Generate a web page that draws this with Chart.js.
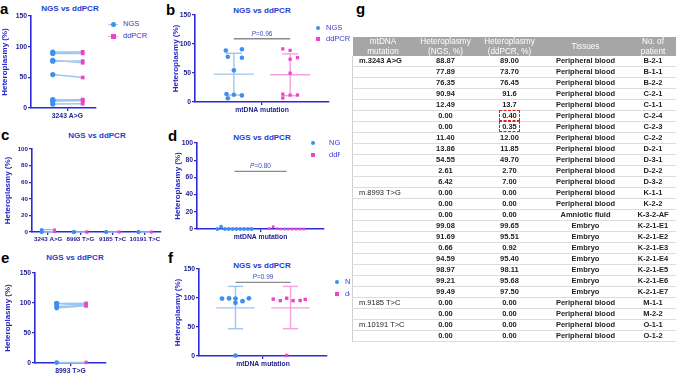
<!DOCTYPE html>
<html>
<head>
<meta charset="utf-8">
<script src="https://cdn.jsdelivr.net/npm/chart.js@4.4.0/dist/chart.umd.min.js"></script>
<style>
  body { margin: 0; width: 676px; height: 375px; position: relative; overflow: hidden; background: #fff;
         font-family: 'Liberation Sans', Arial, sans-serif; }
  canvas { position: absolute; }
  .letter { position: absolute; font-weight: bold; font-size: 15px; color: #000; line-height: 1; }
  .title { position: absolute; font-weight: bold; font-size: 8px; color: #2440d0; transform: translate(-50%, -50%); white-space: nowrap; }
  .legend { position: absolute; overflow: hidden; font-size: 7.5px; color: #3a3ad0; white-space: nowrap; }
  .legend div { height: 11px; line-height: 11px; position: relative; }
  .dot { display: inline-block; width: 4px; height: 4px; border-radius: 50%; background: #3d8ff0; vertical-align: middle; margin-right: 6px; }
  .sq { display: inline-block; width: 4px; height: 4px; background: #ee44cc; vertical-align: middle; margin-right: 6px; }
  .ln { display: inline-block; width: 10px; height: 1px; vertical-align: middle; margin-right: 5px; position: relative; }
  .ln i { position: absolute; left: 3px; top: -2px; width: 5px; height: 5px; }
  #tbl { position: absolute; left: 352px; top: 37px; width: 324px; border-collapse: collapse; table-layout: fixed;
         font-size: 7.5px; color: #222; }
  #tbl th { background: #a6a6a6; color: #fff; font-weight: normal; font-size: 8.2px; line-height: 9.4px; height: 19.4px; padding: 0; }
  #tbl td { height: 10.43px; line-height: 10px; padding: 0; text-align: center; font-weight: bold;
            border-bottom: 1px solid #dcdcdc; box-sizing: border-box; }
  #tbl td.mut { text-align: left; padding-left: 6px; font-weight: normal; }
  #tbl td.mut.b { font-weight: bold; }
  #tbl tr td:first-child { border-left: 1px solid #d0d0d0; }
  .mark { outline: 1px dashed #e02020; outline-offset: 0; padding: 0 2px; }
</style>
</head>
<body>

<div class="letter" style="left:0px;top:1px">a</div>
<div class="letter" style="left:166px;top:2px">b</div>
<div class="letter" style="left:1px;top:127px">c</div>
<div class="letter" style="left:168px;top:128px">d</div>
<div class="letter" style="left:1px;top:250px">e</div>
<div class="letter" style="left:168px;top:250px">f</div>
<div class="letter" style="left:356px;top:1px">g</div>

<div class="title" style="left:70px;top:8px">NGS vs ddPCR</div>
<div class="title" style="left:262px;top:10px">NGS vs ddPCR</div>
<div class="title" style="left:97px;top:135px">NGS vs ddPCR</div>
<div class="title" style="left:262px;top:137px">NGS vs ddPCR</div>
<div class="title" style="left:75px;top:257px">NGS vs ddPCR</div>
<div class="title" style="left:262px;top:265px">NGS vs ddPCR</div>

<canvas id="chartA" width="100" height="125" style="left:0px;top:0px"></canvas>
<canvas id="chartB" width="162" height="125" style="left:171px;top:0px"></canvas>
<canvas id="chartC" width="162" height="125" style="left:3px;top:125px"></canvas>
<canvas id="chartD" width="155" height="120" style="left:173px;top:125px"></canvas>
<canvas id="chartE" width="107" height="125" style="left:3px;top:250px"></canvas>
<canvas id="chartF" width="158" height="125" style="left:173px;top:250px"></canvas>

<div class="legend" style="left:108px;top:18px;width:50px">
  <div><span class="ln" style="background:#a9cdf2"><i style="background:#3d8ff0;border-radius:50%"></i></span>NGS</div>
  <div style="top:1px"><span class="ln" style="background:#f5a6e2"><i style="background:#ee44cc"></i></span>ddPCR</div>
</div>
<div class="legend" style="left:316px;top:22px;width:36px">
  <div><span class="dot"></span>NGS</div>
  <div><span class="sq"></span>ddPCR</div>
</div>
<div class="legend" style="left:311px;top:137px;width:29px">
  <div><span class="dot" style="margin-right:14px"></span>NGS</div>
  <div style="top:1px"><span class="sq" style="margin-right:14px"></span>ddPCR</div>
</div>
<div class="legend" style="left:335px;top:276px;width:15px">
  <div><span class="dot" style="margin-right:6px"></span>NGS</div>
  <div style="top:1px"><span class="sq" style="margin-right:6px"></span>ddPCR</div>
</div>

<table id="tbl">
  <colgroup><col style="width:61px"><col style="width:64px"><col style="width:64px"><col style="width:88px"><col style="width:47px"></colgroup>
  <thead><tr><th>mtDNA<br>mutation</th><th>Heteroplasmy<br>(NGS, %)</th><th>Heteroplasmy<br>(ddPCR, %)</th><th>Tissues</th><th>No. of<br>patient</th></tr></thead>
  <tbody id="tbody"></tbody>
</table>

<script>
// colours
const AXIS = '#2b2bd6';
const TICK_TEXT = '#1c1c8e';
const NGS_COLOR = '#3d8ff0';
const NGS_LIGHT = '#9fc6f0';
const DD_COLOR = '#ee44cc';
const DD_LIGHT = '#f5a0e0';

// panel a / b : m.3243 A>G, peripheral blood, paired values
const aCategory = ['3243 A>G'];
const aNGS = [88.87, 77.89, 76.35, 90.94, 12.49, 11.40, 13.86, 54.55, 6.42];
const aDdPCR = [89.00, 73.70, 76.45, 91.6, 13.7, 12.00, 11.85, 49.70, 7.00];

const bCategory = ['mtDNA mutation'];
const bNGSJitter = [-0.12, -0.09, 0.12, 0.12, 0, 0.12, -0.11, 0, -0.09];
const bDdJitter = [0, 0, 0.11, -0.11, -0.11, 0.11, 0, 0, -0.11];
const bMean = [48, 47];
const bSDLow = [12, 11];
const bSDHigh = [84, 83];
const bP = ['0.96', 109];

// panel c : low-level samples for each mutation
const cCategories = ['3243 A>G', '8993 T>G', '9185 T>C', '10191 T>C'];
const cNGS = [[0.00, 0.00, 2.61], [0.00, 0.00, 0.00], [0.00, 0.00], [0.00, 0.00]];
const cDdPCR = [[0.40, 0.35, 2.70], [0.00, 0.00, 0.00], [0.00, 0.00], [0.00, 0.00]];

// panel d
const dNGS = [0.00, 2.61, 0.00, 0.00, 0.00, 0.00, 0.00, 0.00, 0.00, 0.00];
const dDdPCR = [0.40, 2.70, 0.35, 0.00, 0.00, 0.00, 0.00, 0.00, 0.00, 0.00];
const dJitter = [-0.27, -0.21, -0.15, -0.09, -0.03, 0.03, 0.09, 0.15, 0.21, 0.27];
const dP = ['0.80', 67];

// panel e / f : m.8993 T>G embryos
const eCategory = ['8993 T>G'];
const eNGS = [99.08, 91.69, 0.66, 94.59, 98.97, 99.21, 99.49];
const eDdPCR = [99.65, 95.51, 0.92, 95.40, 98.11, 95.68, 97.50];
const fNGSJitter = [-0.21, 0, 0, 0.11, 0, -0.1, 0.21];
const fDdJitter = [-0.06, -0.16, -0.06, 0.04, -0.27, 0.15, 0.23];
const fMean = [83, 83];
const fSDLow = [47, 47];
const fSDHigh = [120, 120];
const fP = ['0.99', 127];

// table g
const tableRows = [
  ['m.3243 A>G', '88.87', '89.00', 'Peripheral blood', 'B-2-1'],
  ['', '77.89', '73.70', 'Peripheral blood', 'B-1-1'],
  ['', '76.35', '76.45', 'Peripheral blood', 'B-2-2'],
  ['', '90.94', '91.6', 'Peripheral blood', 'C-2-1'],
  ['', '12.49', '13.7', 'Peripheral blood', 'C-1-1'],
  ['', '0.00', '0.40', 'Peripheral blood', 'C-2-4'],
  ['', '0.00', '0.35', 'Peripheral blood', 'C-2-3'],
  ['', '11.40', '12.00', 'Peripheral blood', 'C-2-2'],
  ['', '13.86', '11.85', 'Peripheral blood', 'D-2-1'],
  ['', '54.55', '49.70', 'Peripheral blood', 'D-3-1'],
  ['', '2.61', '2.70', 'Peripheral blood', 'D-2-2'],
  ['', '6.42', '7.00', 'Peripheral blood', 'D-3-2'],
  ['m.8993 T>G', '0.00', '0.00', 'Peripheral blood', 'K-1-1'],
  ['', '0.00', '0.00', 'Peripheral blood', 'K-2-2'],
  ['', '0.00', '0.00', 'Amniotic fluid', 'K-3-2-AF'],
  ['', '99.08', '99.65', 'Embryo', 'K-2-1-E1'],
  ['', '91.69', '95.51', 'Embryo', 'K-2-1-E2'],
  ['', '0.66', '0.92', 'Embryo', 'K-2-1-E3'],
  ['', '94.59', '95.40', 'Embryo', 'K-2-1-E4'],
  ['', '98.97', '98.11', 'Embryo', 'K-2-1-E5'],
  ['', '99.21', '95.68', 'Embryo', 'K-2-1-E6'],
  ['', '99.49', '97.50', 'Embryo', 'K-2-1-E7'],
  ['m.9185 T>C', '0.00', '0.00', 'Peripheral blood', 'M-1-1'],
  ['', '0.00', '0.00', 'Peripheral blood', 'M-2-2'],
  ['m.10191 T>C', '0.00', '0.00', 'Peripheral blood', 'O-1-1'],
  ['', '0.00', '0.00', 'Peripheral blood', 'O-1-2']
];
const markedRows = [5, 6];

const tbody = document.getElementById('tbody');
tableRows.forEach((row, r) => {
  const tr = document.createElement('tr');
  row.forEach((cell, c) => {
    const td = document.createElement('td');
    if (c === 0) td.className = 'mut' + (r === 0 ? ' b' : '');
    if (c === 2 && markedRows.includes(r)) {
      td.innerHTML = '<span class="mark">' + cell + '</span>';
    } else {
      td.textContent = cell;
    }
    tr.appendChild(td);
  });
  tbody.appendChild(tr);
});

// draws "P=0.xx" above the comparison bar
const pLabelPlugin = {
  id: 'pLabel',
  afterDatasetsDraw(chart, args, opts) {
    if (!opts || !opts.text) return;
    const ctx = chart.ctx;
    const x = chart.scales.x.getPixelForValue(0);
    const y = chart.scales.y.getPixelForValue(opts.y) - 5;
    ctx.save();
    ctx.fillStyle = '#3b4bb8';
    ctx.textBaseline = 'middle';
    ctx.font = 'italic 6.5px "Liberation Sans", Arial';
    const wP = ctx.measureText('P').width;
    ctx.font = '6.5px "Liberation Sans", Arial';
    const wRest = ctx.measureText('=' + opts.text).width;
    const start = x - (wP + wRest) / 2;
    ctx.font = 'italic 6.5px "Liberation Sans", Arial';
    ctx.fillText('P', start, y);
    ctx.font = '6.5px "Liberation Sans", Arial';
    ctx.fillText('=' + opts.text, start + wP, y);
    ctx.restore();
  }
};

function panel(id, o) {
  const canvas = document.getElementById(id);
  const tickFont = { family: "'Liberation Sans', Arial", size: o.tickSize || 6.8, weight: 'bold' };
  return new Chart(canvas.getContext('2d'), {
    type: 'scatter',
    data: { datasets: o.datasets },
    options: {
      responsive: false,
      animation: false,
      devicePixelRatio: 1,
      layout: { padding: { top: o.padTop, right: o.padRight, left: 0, bottom: 0 } },
      plugins: { legend: { display: false }, tooltip: { enabled: false }, pLabel: o.pLabel || {} },
      scales: {
        x: {
          type: 'linear', min: o.xMin, max: o.xMax,
          afterBuildTicks: axis => { axis.ticks = o.xTicks.map(v => ({ value: v })); },
          afterFit: axis => { axis.height = o.xHeight; },
          ticks: { callback: v => o.xLabels[o.xTicks.indexOf(v)], font: tickFont, color: TICK_TEXT,
                   maxRotation: 0, autoSkip: false, padding: 1 },
          grid: { drawOnChartArea: false, tickLength: 3, color: AXIS, lineWidth: 1.3 },
          border: { color: AXIS, width: 1.6 }
        },
        y: {
          min: 0, max: o.yMax,
          afterFit: axis => { axis.width = o.yWidth; },
          ticks: { stepSize: o.yStep, font: tickFont, color: TICK_TEXT, padding: 1 },
          title: { display: true, text: 'Heteroplasmy (%)', color: '#2626c8', padding: 0,
                   font: { family: "'Liberation Sans', Arial", size: 8, weight: 'bold' } },
          grid: { drawOnChartArea: false, tickLength: 3, color: AXIS, lineWidth: 1.3 },
          border: { color: AXIS, width: 1.6 }
        }
      }
    },
    plugins: [pLabelPlugin]
  });
}

// before-after lines, one segment per pair
function pairLines(ngs, dd, xN, xD) {
  const pts = [];
  ngs.forEach((v, i) => { pts.push({ x: xN, y: v }, { x: xD, y: dd[i] }, { x: xD, y: null }); });
  return { data: pts, showLine: true, spanGaps: false, borderColor: NGS_LIGHT, borderWidth: 1.5,
           pointRadius: 0, clip: false, order: 2 };
}
function markers(values, xs, color, style, r) {
  return { data: values.map((v, i) => ({ x: xs[i], y: v })), pointStyle: style, pointRadius: r,
           backgroundColor: color, borderColor: color, borderWidth: 0, showLine: false, clip: false, order: 0 };
}
function seg(x1, y1, x2, y2, color) {
  return { data: [{ x: x1, y: y1 }, { x: x2, y: y2 }], showLine: true, borderColor: color, borderWidth: 1.4,
           pointRadius: 0, clip: false, order: 1 };
}
function meanSD(center, mean, low, high, color) {
  return [
    seg(center - 0.3, mean, center + 0.3, mean, color),
    seg(center, low, center, high, color),
    seg(center - 0.12, low, center + 0.12, low, color),
    seg(center - 0.12, high, center + 0.12, high, color)
  ];
}

// a
const aXN = -0.45, aXD = 0.47;
panel('chartA', {
  padTop: 16, padRight: 3, xHeight: 17, yWidth: 31,
  xMin: -1.12, xMax: 0.88, xTicks: [0], xLabels: aCategory, yMax: 150, yStep: 50,
  datasets: [
    pairLines(aNGS, aDdPCR, aXN, aXD),
    markers(aNGS, aNGS.map(() => aXN), NGS_COLOR, 'circle', 2.6),
    markers(aDdPCR, aDdPCR.map(() => aXD), DD_COLOR, 'rect', 2.6)
  ]
});

// b
panel('chartB', {
  padTop: 15, padRight: 3, xHeight: 23, yWidth: 24,
  xMin: -1, xMax: 1, xTicks: [0], xLabels: bCategory, yMax: 150, yStep: 50,
  pLabel: { text: bP[0], y: bP[1] },
  datasets: [
    markers(aNGS, bNGSJitter.map(j => -0.42 + j), NGS_COLOR, 'circle', 2.3),
    markers(aDdPCR, bDdJitter.map(j => 0.42 + j), DD_COLOR, 'rect', 2.3),
    ...meanSD(-0.42, bMean[0], bSDLow[0], bSDHigh[0], NGS_LIGHT),
    ...meanSD(0.42, bMean[1], bSDLow[1], bSDHigh[1], DD_LIGHT),
    seg(-0.42, bP[1], 0.42, bP[1], '#8a8a8a')
  ]
});

// c
const cSets = [];
cCategories.forEach((cat, k) => {
  cSets.push(pairLines(cNGS[k], cDdPCR[k], k - 0.2, k + 0.2));
  cSets.push(markers(cNGS[k], cNGS[k].map(() => k - 0.2), NGS_COLOR, 'circle', 1.9));
  cSets.push(markers(cDdPCR[k], cDdPCR[k].map(() => k + 0.2), DD_COLOR, 'rect', 1.9));
});
panel('chartC', {
  padTop: 24, padRight: 3, xHeight: 18, yWidth: 29, tickSize: 6.2,
  xMin: -0.5, xMax: 3.5, xTicks: [0, 1, 2, 3], xLabels: cCategories, yMax: 100, yStep: 20,
  datasets: cSets
});

// d
panel('chartD', {
  padTop: 18, padRight: 3, xHeight: 16, yWidth: 24,
  xMin: -1, xMax: 1, xTicks: [0], xLabels: bCategory, yMax: 100, yStep: 20,
  pLabel: { text: dP[0], y: dP[1] },
  datasets: [
    markers(dNGS, dJitter.map(j => -0.41 + j), NGS_COLOR, 'circle', 1.9),
    markers(dDdPCR, dJitter.map(j => 0.41 + j), DD_COLOR, 'rect', 1.9),
    seg(-0.41, dP[1], 0.41, dP[1], '#8a8a8a')
  ]
});

// e
const eXN = -0.39, eXD = 0.44;
panel('chartE', {
  padTop: 23, padRight: 3, xHeight: 12, yWidth: 32,
  xMin: -1, xMax: 1, xTicks: [0], xLabels: eCategory, yMax: 150, yStep: 50,
  datasets: [
    pairLines(eNGS, eDdPCR, eXN, eXD),
    markers(eNGS, eNGS.map(() => eXN), NGS_COLOR, 'circle', 2.4),
    markers(eDdPCR, eDdPCR.map(() => eXD), DD_COLOR, 'rect', 2.4)
  ]
});

// f
panel('chartF', {
  padTop: 19, padRight: 3, xHeight: 19, yWidth: 26,
  xMin: -1, xMax: 1, xTicks: [0], xLabels: bCategory, yMax: 150, yStep: 50,
  pLabel: { text: fP[0], y: fP[1] },
  datasets: [
    markers(eNGS, fNGSJitter.map(j => -0.43 + j), NGS_COLOR, 'circle', 2.4),
    markers(eDdPCR, fDdJitter.map(j => 0.43 + j), DD_COLOR, 'rect', 2.4),
    ...meanSD(-0.43, fMean[0], fSDLow[0], fSDHigh[0], NGS_LIGHT),
    ...meanSD(0.43, fMean[1], fSDLow[1], fSDHigh[1], DD_LIGHT),
    seg(-0.43, fP[1], 0.43, fP[1], '#8a8a8a')
  ]
});
</script>
</body>
</html>
